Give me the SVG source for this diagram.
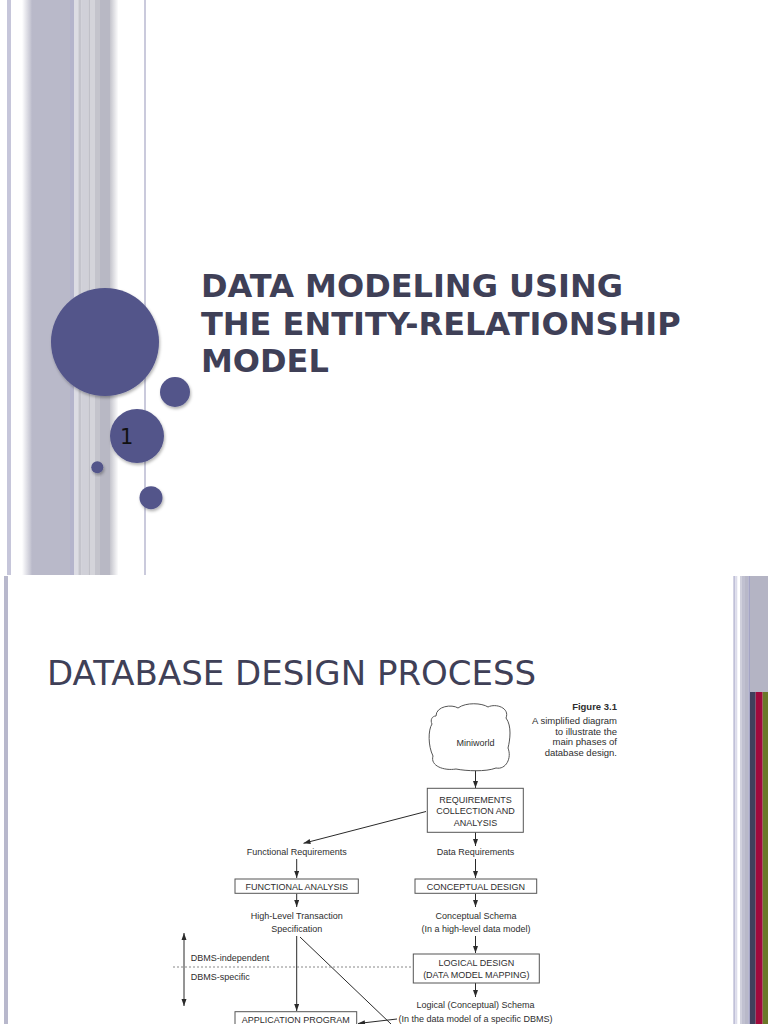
<svg xmlns="http://www.w3.org/2000/svg" width="768" height="1024" viewBox="0 0 768 1024">
<defs>
<linearGradient id="fadeIn" x1="0" y1="0" x2="1" y2="0"><stop offset="0" stop-color="#ffffff"/><stop offset="1" stop-color="#bcbccb"/></linearGradient>
<linearGradient id="fadeOut" x1="0" y1="0" x2="1" y2="0"><stop offset="0" stop-color="#c4c4cc"/><stop offset="1" stop-color="#ffffff"/></linearGradient>
<filter id="sh" x="-30%" y="-30%" width="160%" height="160%"><feDropShadow dx="1" dy="2" stdDeviation="1.8" flood-color="#000" flood-opacity="0.3"/></filter>
<marker id="ah" markerUnits="userSpaceOnUse" markerWidth="8" markerHeight="6" refX="7" refY="2.5" orient="auto"><path d="M0,0 L7,2.5 L0,5 z" fill="#2a2a2a"/></marker>
<marker id="ahs" markerUnits="userSpaceOnUse" markerWidth="8" markerHeight="6" refX="0" refY="2.5" orient="auto"><path d="M7,0 L0,2.5 L7,5 z" fill="#2a2a2a"/></marker>
<style>
.dot{fill:#52548a;filter:url(#sh)}
.t1{font-family:"DejaVu Sans",Verdana,sans-serif;font-weight:bold;font-size:32px;fill:#3f4057}
.t2{font-family:"DejaVu Sans",Verdana,sans-serif;font-size:34px;fill:#3f4057}
.f{font-family:"Liberation Sans",Arial,sans-serif;font-size:9px;fill:#2e2e2e}
.c{text-anchor:middle}
.cap{font-family:"Liberation Sans",Arial,sans-serif;font-size:9.5px;fill:#2e2e2e;text-anchor:end}
.box{fill:#fff;stroke:#555;stroke-width:1}
.ln{stroke:#2a2a2a;stroke-width:1;fill:none}
</style>
</defs>
<rect width="768" height="1024" fill="#fff"/>
<g id="slide1-stripes">
<rect x="7" y="0" width="4" height="575" fill="#c6c6da"/>
<rect x="22" y="0" width="10" height="575" fill="url(#fadeIn)"/>
<rect x="31.7" y="0" width="38.5" height="575" fill="#b9b9c9"/>
<rect x="70" y="0" width="4" height="575" fill="#b4b4cc"/>
<rect x="74" y="0" width="4.3" height="575" fill="#dcdce4"/>
<rect x="78.3" y="0" width="3.4" height="575" fill="#c4c4cc"/>
<rect x="81.7" y="0" width="6.6" height="575" fill="#d0d0d8"/>
<rect x="88.3" y="0" width="1.7" height="575" fill="#c0c0c8"/>
<rect x="90" y="0" width="5" height="575" fill="#d4d4da"/>
<rect x="95" y="0" width="5" height="575" fill="#c4c4cc"/>
<rect x="100" y="0" width="10" height="575" fill="#b8b8c4"/>
<rect x="110" y="0" width="8.5" height="575" fill="url(#fadeOut)"/>
<rect x="144" y="0" width="2" height="575" fill="#cacadc"/>
</g>
<g id="slide1-circles">
<circle class="dot" cx="105" cy="342" r="54"/>
<circle class="dot" cx="175" cy="392" r="15"/>
<circle class="dot" cx="137" cy="436" r="27"/>
<circle class="dot" cx="97.3" cy="467.3" r="6"/>
<circle class="dot" cx="151" cy="497.7" r="11.5"/>
<text x="120" y="444" font-family="DejaVu Sans,sans-serif" font-size="21" fill="#111">1</text>
</g>
<g id="slide1-title">
<text class="t1" x="201" y="297">DATA MODELING USING</text>
<text class="t1" x="201" y="335">THE ENTITY-RELATIONSHIP</text>
<text class="t1" x="201" y="372">MODEL</text>
</g>
<g id="slide2-frame">
<rect x="4" y="576" width="4" height="448" fill="#b8b8cc"/>
<rect x="733.3" y="576" width="2" height="448" fill="#c0c0d8"/>
<rect x="735.3" y="576" width="2" height="448" fill="#dcdcea"/>
<rect x="740" y="576" width="2" height="448" fill="#d0d0dc"/>
<rect x="742" y="576" width="3" height="448" fill="#c0c0d0"/>
<rect x="745" y="576" width="3.3" height="448" fill="#b8b8c8"/>
<rect x="748.3" y="576" width="1.7" height="448" fill="#a4a4c4"/>
<rect x="750" y="576" width="18" height="116" fill="#b4b4c4"/>
<rect x="750" y="692" width="5.7" height="332" fill="#40405c"/>
<rect x="755.7" y="692" width="7" height="332" fill="#a00a3c"/>
<rect x="762.7" y="692" width="5.3" height="332" fill="#6a7828"/>
</g>
<g id="slide2-title">
<text class="t2" x="47" y="685">DATABASE DESIGN PROCESS</text>
</g>
<g id="caption">
<text class="cap" x="617" y="709.5" font-weight="bold">Figure 3.1</text>
<text class="cap" x="617" y="724">A simplified diagram</text>
<text class="cap" x="617" y="734.5">to illustrate the</text>
<text class="cap" x="617" y="745">main phases of</text>
<text class="cap" x="617" y="756">database design.</text>
</g>
<g id="connectors">
<line class="ln" x1="475.5" y1="770" x2="475.5" y2="788" marker-end="url(#ah)"/>
<line class="ln" x1="475.5" y1="832" x2="475.5" y2="846" marker-end="url(#ah)"/>
<line class="ln" x1="426" y1="811.5" x2="303.5" y2="843.3" marker-end="url(#ah)"/>
<line class="ln" x1="296.7" y1="859" x2="296.7" y2="878" marker-end="url(#ah)"/>
<line class="ln" x1="475.5" y1="859" x2="475.5" y2="878" marker-end="url(#ah)"/>
<line class="ln" x1="296.7" y1="893.5" x2="296.7" y2="907" marker-end="url(#ah)"/>
<line class="ln" x1="475.5" y1="893.5" x2="475.5" y2="907" marker-end="url(#ah)"/>
<line class="ln" x1="475.5" y1="936" x2="475.5" y2="953" marker-end="url(#ah)"/>
<line class="ln" x1="475.5" y1="983" x2="475.5" y2="997" marker-end="url(#ah)"/>
<line class="ln" x1="296.7" y1="936" x2="296.7" y2="1011" marker-end="url(#ah)"/>
<line class="ln" x1="300" y1="937" x2="391" y2="1024"/>
<line class="ln" x1="397" y1="1019" x2="358" y2="1023.5" marker-end="url(#ah)"/>
<line class="ln" x1="184" y1="933" x2="184" y2="1006" marker-start="url(#ahs)" marker-end="url(#ah)"/>
<line x1="173" y1="967" x2="413" y2="967" stroke="#888" stroke-width="1" stroke-dasharray="2,2"/>
</g>
<g id="miniworld">
<path class="box" d="M436,716 C436,706 452,704 458,708 C466,702 482,703 488,707 C496,703 510,708 506,718 C512,726 510,740 508,748 C512,758 506,770 496,768 C486,772 466,771 456,769 C444,771 430,766 433,756 C428,746 428,730 432,724 C430,720 432,716 436,716 Z"/>
<text class="f c" x="475.5" y="746">Miniworld</text>
</g>
<g id="requirements">
<rect class="box" x="427.3" y="788.3" width="96" height="44"/>
<text class="f c" x="475.5" y="802.5">REQUIREMENTS</text>
<text class="f c" x="475.5" y="814.3">COLLECTION AND</text>
<text class="f c" x="475.5" y="826">ANALYSIS</text>
</g>
<g id="functional-requirements"><text class="f c" x="296.7" y="855">Functional Requirements</text></g>
<g id="data-requirements"><text class="f c" x="475.5" y="855">Data Requirements</text></g>
<g id="functional-analysis">
<rect class="box" x="235" y="879" width="123.3" height="14.3"/>
<text class="f c" x="296.7" y="889.5">FUNCTIONAL ANALYSIS</text>
</g>
<g id="conceptual-design">
<rect class="box" x="415" y="879" width="121.7" height="14.3"/>
<text class="f c" x="475.8" y="889.5">CONCEPTUAL DESIGN</text>
</g>
<g id="hl-spec">
<text class="f c" x="296.7" y="919">High-Level Transaction</text>
<text class="f c" x="296.7" y="932">Specification</text>
</g>
<g id="conceptual-schema">
<text class="f c" x="476" y="919">Conceptual Schema</text>
<text class="f c" x="476" y="932">(In a high-level data model)</text>
</g>
<g id="dbms-labels">
<text class="f" x="190.7" y="961">DBMS-independent</text>
<text class="f" x="190.7" y="980">DBMS-specific</text>
</g>
<g id="logical-design">
<rect class="box" x="413.3" y="954" width="126" height="29"/>
<text class="f c" x="476.3" y="966.3">LOGICAL DESIGN</text>
<text class="f c" x="476.3" y="978.3">(DATA MODEL MAPPING)</text>
</g>
<g id="logical-schema">
<text class="f c" x="475.5" y="1008.3">Logical (Conceptual) Schema</text>
<text class="f c" x="475.5" y="1021.5">(In the data model of a specific DBMS)</text>
</g>
<g id="application-program">
<rect class="box" x="235" y="1011.7" width="121.7" height="20"/>
<text class="f c" x="295.8" y="1022.6">APPLICATION PROGRAM</text>
</g>
</svg>
